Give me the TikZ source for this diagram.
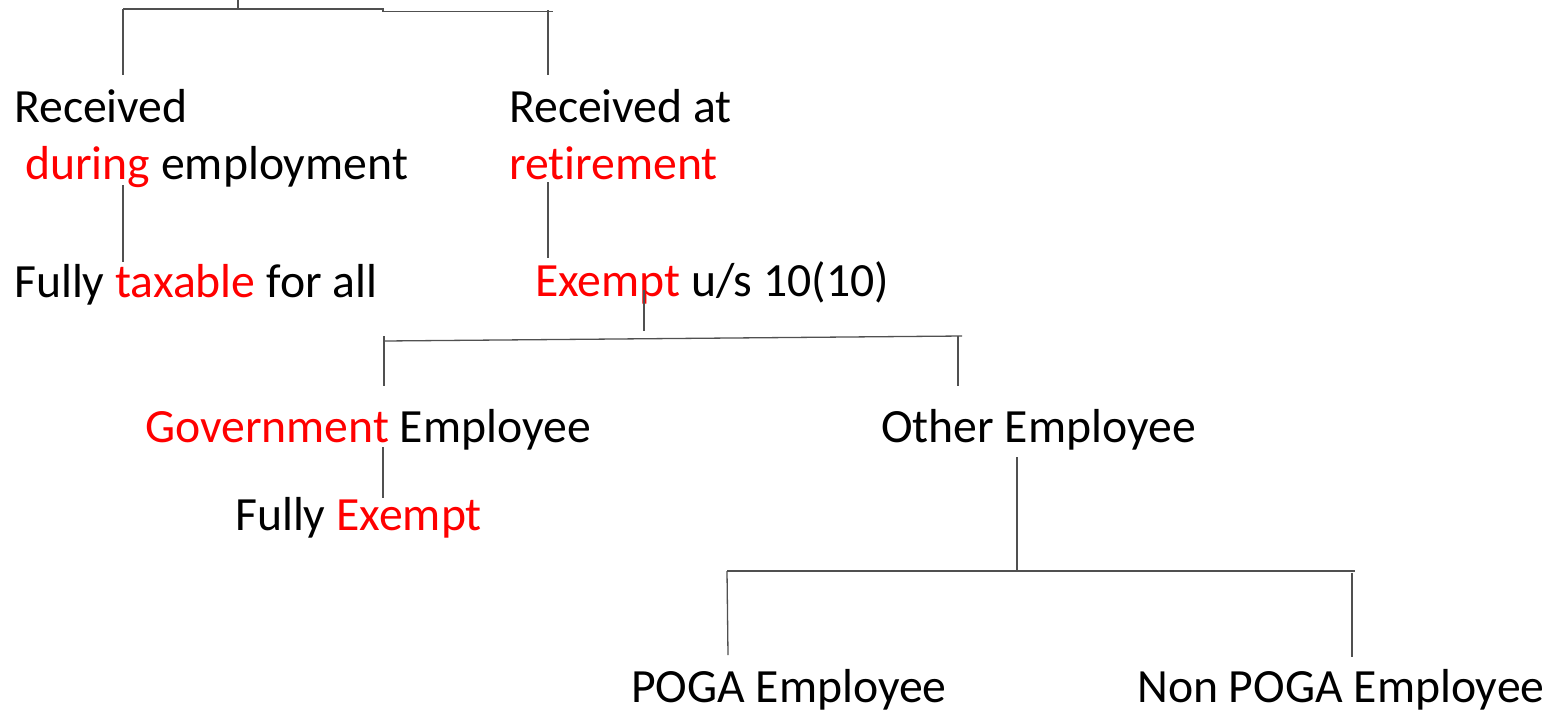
\documentclass[tikz,border=0pt]{standalone}
\usepackage{fontspec}
\setmainfont{Carlito}[Ligatures={NoCommon}]
\definecolor{tred}{RGB}{255,0,0}
\definecolor{lgray}{RGB}{80,80,80}
\begin{document}
\begin{tikzpicture}[x=1pt,y=-1pt,
  lbl/.style={inner sep=0pt,anchor=base west,font=\fontsize{47.7}{55}\selectfont},
  conn/.style={draw=lgray,line width=1.3pt}]
\useasboundingbox (0,0) rectangle (1550,713);
% texts
\node[lbl] (rec1) at (14,122) {Received};
\node[lbl] (dur) at (25,179) {\textcolor{tred}{during} employment};
\node[lbl] (ftax) at (14,297) {Fully \textcolor{tred}{taxable} for all};
\node[lbl] (rec2) at (509,122) {Received at};
\node[lbl] (ret) at (509,179) {\textcolor{tred}{retirement}};
\node[lbl] (exm) at (535,296) {\textcolor{tred}{Exempt} u/s 10(10)};
\node[lbl] (gov) at (145,442) {\textcolor{tred}{Government} Employee};
\node[lbl] (fex) at (235,530) {Fully \textcolor{tred}{Exempt}};
\node[lbl] (oth) at (881,442) {Other Employee};
\node[lbl] (poga) at (631,702) {POGA Employee};
\node[lbl] (npoga) at (1137,702) {Non POGA Employee};
% junction coordinates
\coordinate (t0) at (238,0);
\coordinate (t1) at (238,9);
\coordinate (tl) at (123,9);
\coordinate (tm) at (383,9);
\coordinate (tm2) at (383,11.3);
\coordinate (tr) at (553,11.3);
\coordinate (trv) at (548,10);
\coordinate (rec1top) at (123,75);
\coordinate (rec2top) at (548,75);
\coordinate (durb) at (123,185);
\coordinate (ftaxt) at (123,262);
\coordinate (retb) at (548,182);
\coordinate (exmt) at (548,258);
\coordinate (exmb) at (644,290);
\coordinate (j2) at (644,331);
\coordinate (hl) at (384,341);
\coordinate (hr) at (962,336);
\coordinate (hlv) at (384,336);
\coordinate (govt) at (384,386);
\coordinate (hrv) at (958,336);
\coordinate (otht) at (958,386);
\coordinate (govb) at (383,447);
\coordinate (fext) at (383,498);
\coordinate (othb) at (1017,457);
\coordinate (j3) at (1017,571);
\coordinate (h3l) at (727,571);
\coordinate (h3r) at (1355,571);
\coordinate (pogat) at (728,655);
\coordinate (h3rv) at (1352,573);
\coordinate (npogat) at (1352,657);
% connectors
\draw[conn] (t0) -- (t1);
\draw[conn] (tl) -- (tm) -- (tm2) -- (tr);
\draw[conn] (tl) -- (rec1top);
\draw[conn] (trv) -- (rec2top);
\draw[conn] (durb) -- (ftaxt);
\draw[conn] (retb) -- (exmt);
\draw[conn] (exmb) -- (j2);
\draw[conn] (hl) -- (hr);
\draw[conn] (hlv) -- (govt);
\draw[conn] (hrv) -- (otht);
\draw[conn] (govb) -- (fext);
\draw[conn] (othb) -- (j3);
\draw[conn] (h3l) -- (h3r);
\draw[conn] (h3l) -- (pogat);
\draw[conn] (h3rv) -- (npogat);
\end{tikzpicture}
\end{document}
